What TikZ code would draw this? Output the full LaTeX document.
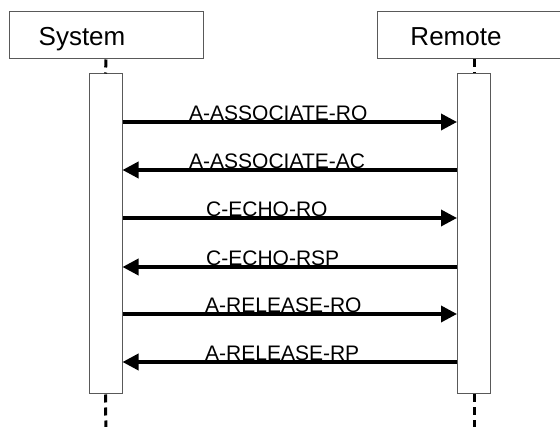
\documentclass[tikz,border=0pt]{standalone}
\usepackage{fontspec}
\setmainfont{Liberation Sans}
\usetikzlibrary{arrows.meta,calc}
\begin{document}
\begin{tikzpicture}[x=1pt,y=1pt,
  headbox/.style={draw=black!65,line width=1pt,fill=white,minimum width=194pt,minimum height=47pt,inner sep=0pt},
  headtext/.style={inner sep=0pt,anchor=base,font=\fontsize{26}{30}\selectfont},
  actbox/.style={draw=black!65,line width=1pt,fill=white,minimum width=33pt,minimum height=320pt,inner sep=0pt},
  lifeline/.style={line width=3pt,dash pattern=on 8pt off 5pt},
  msg/.style={line width=3.5pt,-{Triangle[length=16pt,width=16pt]}},
  msglabel/.style={inner sep=0pt,anchor=base west,font=\fontsize{21}{25}\selectfont}]
\clip (0,0) rectangle (560,-427);
\fill[white] (0,0) rectangle (560,-427);
% headers
\node[headbox] (sys) at (106,-35.5) {};
\node[headbox] (rem) at (474,-35.5) {};
\node[headtext] (systxt) at (82,-46) {System};
\node[headtext] (remtxt) at (456,-46) {Remote};
% activation boxes
\node[actbox] (sysact) at (105.5,-234) {};
\node[actbox] (remact) at (474,-234) {};
% lifelines
\coordinate (sysend) at (106,-440);
\coordinate (remend) at (474,-440);
\draw[lifeline] (sys.south) -- (sysact.north);
\draw[lifeline] (rem.south) -- (remact.north);
\draw[lifeline] (sysact.south) -- (sysend);
\draw[lifeline] (remact.south) -- (remend);
% messages
\draw[msg] (sysact.east |- 0,-122) -- (remact.west |- 0,-122);
\draw[msg] (remact.west |- 0,-170) -- (sysact.east |- 0,-170);
\draw[msg] (sysact.east |- 0,-218) -- (remact.west |- 0,-218);
\draw[msg] (remact.west |- 0,-267) -- (sysact.east |- 0,-267);
\draw[msg] (sysact.east |- 0,-314) -- (remact.west |- 0,-314);
\draw[msg] (remact.west |- 0,-362) -- (sysact.east |- 0,-362);
% labels
\node[msglabel] (l1) at (189,-121) {A-ASSOCIATE-RQ};
\node[msglabel] (l2) at (189,-169) {A-ASSOCIATE-AC};
\node[msglabel] (l3) at (206,-217) {C-ECHO-RQ};
\node[msglabel] (l4) at (206,-266) {C-ECHO-RSP};
\node[msglabel] (l5) at (205,-313) {A-RELEASE-RQ};
\node[msglabel] (l6) at (205,-361) {A-RELEASE-RP};
\end{tikzpicture}
\end{document}
